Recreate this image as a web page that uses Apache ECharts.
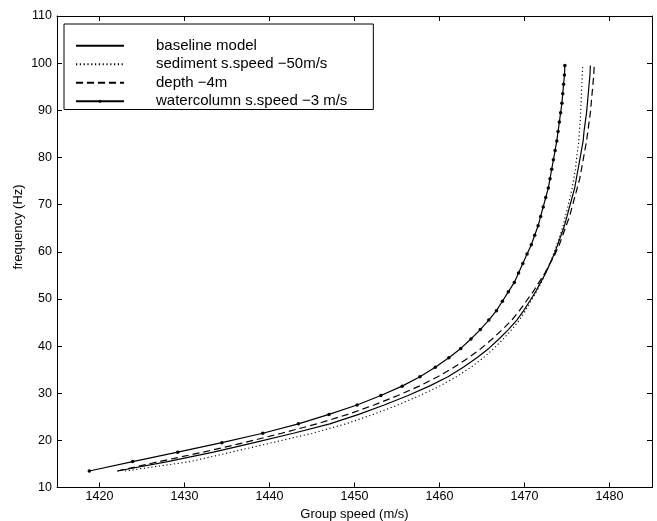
<!DOCTYPE html>
<html>
<head>
<meta charset="utf-8">
<script src="https://cdn.jsdelivr.net/npm/echarts@6/dist/echarts.min.js"></script>
<style>html,body{margin:0;padding:0;background:#fff}#c{width:657px;height:521px}</style>
</head>
<body>
<div id="c"></div>
<script>
var freq = [13.5,15.5,17.5,19.5,21.5,23.5,25.5,27.5,29.5,31.5,33.5,35.5,37.5,39.5,41.5,43.5,45.5,47.5,49.5,51.5,53.5,55.5,57.5,59.5,61.5,63.5,65.5,67.5,69.5,71.5,73.5,75.5,77.5,79.5,81.5,83.5,85.5,87.5,89.5,91.5,93.5,95.5,97.5,99.5];
// Group speed (m/s) for each model
var baseline = [1422.1,1428.0,1433.4,1438.2,1442.8,1447.1,1450.5,1453.5,1456.3,1458.8,1461.0,1462.8,1464.4,1465.8,1467.0,1468.1,1469.1,1469.9,1470.6,1471.3,1471.9,1472.5,1473.0,1473.5,1473.9,1474.3,1474.7,1475.0,1475.3,1475.6,1475.9,1476.1,1476.3,1476.5,1476.7,1476.9,1477.0,1477.15,1477.3,1477.4,1477.5,1477.6,1477.7,1477.75];
var sediment = [1423.0,1430.7,1435.5,1440.3,1445.0,1449.0,1452.2,1455.1,1457.7,1460.0,1462.0,1463.7,1465.15,1466.4,1467.5,1468.5,1469.4,1470.1,1470.75,1471.4,1472.0,1472.5,1473.0,1473.4,1473.8,1474.2,1474.55,1474.8,1475.1,1475.35,1475.6,1475.8,1476.0,1476.1,1476.25,1476.4,1476.45,1476.55,1476.6,1476.65,1476.7,1476.75,1476.8,1476.85];
var depth = [1422.1,1427.0,1432.2,1437.0,1441.4,1445.6,1449.2,1452.3,1455.1,1457.6,1459.8,1461.7,1463.4,1464.9,1466.2,1467.4,1468.5,1469.4,1470.2,1471.0,1471.7,1472.4,1473.0,1473.6,1474.1,1474.5,1474.9,1475.3,1475.6,1475.9,1476.2,1476.5,1476.7,1476.9,1477.1,1477.3,1477.45,1477.6,1477.75,1477.85,1477.95,1478.05,1478.15,1478.2];
var watercolumn = [1418.8,1423.9,1429.2,1434.4,1439.2,1443.4,1447.0,1450.3,1453.1,1455.6,1457.7,1459.5,1461.1,1462.5,1463.7,1464.8,1465.8,1466.7,1467.4,1468.1,1468.8,1469.3,1469.8,1470.3,1470.8,1471.2,1471.6,1471.9,1472.2,1472.5,1472.8,1473.0,1473.2,1473.4,1473.6,1473.8,1473.95,1474.1,1474.25,1474.4,1474.5,1474.6,1474.7,1474.75];
var seriesNames = ['baseline model','sediment s.speed \u221250m/s','depth \u22124m','watercolumn s.speed \u22123 m/s'];
var xTicks = [1420,1430,1440,1450,1460,1470,1480];
var yTicks = [10,20,30,40,50,60,70,80,90,100,110];

function pairs(xs){ return xs.map(function(v,i){ return [v, freq[i]]; }); }

var FONT = '"Liberation Sans", Arial, Helvetica, sans-serif';
var chart = echarts.init(document.getElementById('c'), null, {renderer:'canvas'});
var axisLine = {show:true, lineStyle:{color:'#000', width:1}};
var plain = function(v){ return String(v); };
var option = {
  backgroundColor:'#fff',
  animation:false,
  textStyle:{fontFamily:FONT, color:'#000'},
  grid:{left:57, right:5, top:16, bottom:33.5, containLabel:false, outerBoundsMode:'none'},
  legend:{
    orient:'vertical', left:64, top:24,
    padding:[14,26,0.5,11],
    borderColor:'#000', borderWidth:1, backgroundColor:'#fff',
    itemWidth:48, itemHeight:4, itemGap:3,
    textStyle:{fontFamily:FONT, fontSize:15, lineHeight:15.5, color:'#000', padding:[0,0,0,27]},
    data:[
      {name:seriesNames[0], itemStyle:{opacity:0}},
      {name:seriesNames[1], itemStyle:{opacity:0}},
      {name:seriesNames[2], itemStyle:{opacity:0}},
      {name:seriesNames[3]}
    ]
  },
  xAxis:[{
    type:'value', position:'bottom', min:1415, max:1485,
    axisLine:axisLine,
    axisTick:{show:true, inside:true, length:5, lineStyle:{color:'#000'}, customValues:xTicks},
    axisLabel:{fontSize:12.5, color:'#000', margin:3, fontFamily:FONT, customValues:xTicks, formatter:plain},
    splitLine:{show:false},
    name:'Group speed (m/s)', nameLocation:'middle', nameGap:14.5,
    nameTextStyle:{fontSize:13, color:'#000', fontFamily:FONT}
  },{
    type:'value', position:'top', min:1415, max:1485,
    axisLine:axisLine,
    axisTick:{show:true, inside:true, length:5, lineStyle:{color:'#000'}, customValues:xTicks},
    axisLabel:{show:false}, splitLine:{show:false}
  }],
  yAxis:[{
    type:'value', position:'left', min:10, max:110, interval:10,
    axisLine:axisLine,
    axisTick:{show:true, inside:true, length:5, lineStyle:{color:'#000'}},
    axisLabel:{fontSize:12.5, color:'#000', margin:5, fontFamily:FONT, formatter:plain},
    splitLine:{show:false}
  },{
    type:'value', position:'right', min:10, max:110, interval:10,
    axisLine:axisLine,
    axisTick:{show:true, inside:true, length:5, lineStyle:{color:'#000'}},
    axisLabel:{show:false}, splitLine:{show:false}
  }],
  graphic:[{
    type:'text', x:18, y:227, rotation:Math.PI/2,
    style:{text:'frequency (Hz)', fontSize:13, fontFamily:FONT, fill:'#000', align:'center', verticalAlign:'middle'}
  }],
  series:[
    {name:seriesNames[0], type:'line', data:pairs(baseline), showSymbol:false, symbol:'none',
     lineStyle:{color:'#000', width:1.2, type:'solid'}, itemStyle:{color:'#000'}},
    {name:seriesNames[1], type:'line', data:pairs(sediment), showSymbol:false, symbol:'none',
     lineStyle:{color:'#000', width:1.1, type:[1.2,2.6]}, itemStyle:{color:'#000'}},
    {name:seriesNames[2], type:'line', data:pairs(depth), showSymbol:false, symbol:'none',
     lineStyle:{color:'#000', width:1.2, type:[7,4]}, itemStyle:{color:'#000'}},
    {name:seriesNames[3], type:'line', data:pairs(watercolumn), symbol:'circle', symbolSize:3.5,
     lineStyle:{color:'#000', width:1.2, type:'solid'}, itemStyle:{color:'#000'}}
  ]
};
chart.setOption(option);
</script>
</body>
</html>
